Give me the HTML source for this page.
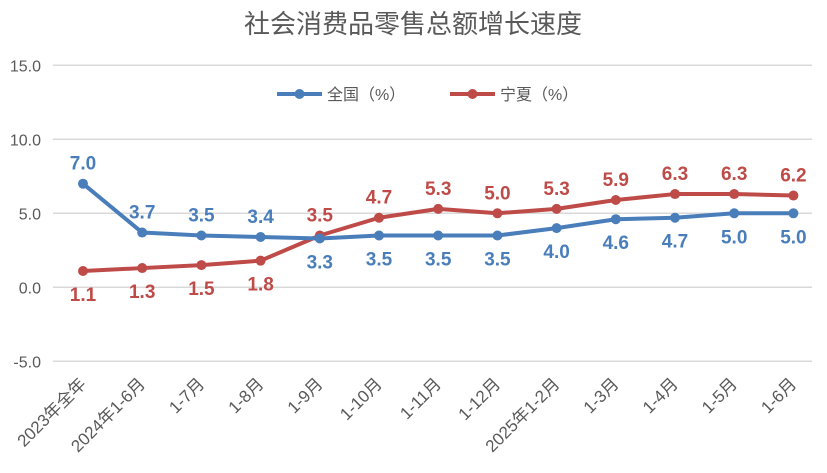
<!DOCTYPE html>
<html><head><meta charset="utf-8">
<style>
body{margin:0;background:#fff;}
svg{display:block;font-family:"Liberation Sans","Noto Sans CJK SC",sans-serif;}
</style></head>
<body>
<svg id="chart" width="827" height="473" viewBox="0 0 827 473">
<text x="413" y="33" text-anchor="middle" font-size="26" fill="#595959">社会消费品零售总额增长速度</text>
<g id="grid"></g><g id="yticks"></g><g id="xticks"></g><g id="series"></g>
<g>
<g>
<line x1="277" y1="94" x2="322" y2="94" stroke="#4a7ebb" stroke-width="4"/>
<circle cx="299.5" cy="94" r="5" fill="#4a7ebb"/>
<text x="327" y="100" font-size="16" fill="#595959">全国（%）</text></g>
<g>
<line x1="450" y1="94" x2="495" y2="94" stroke="#be4b48" stroke-width="4"/>
<circle cx="472.5" cy="94" r="5" fill="#be4b48"/>
<text x="500" y="100" font-size="16" fill="#595959">宁夏（%）</text></g>
</g>
</svg>
<script>
const categories=["2023年全年","2024年1-6月","1-7月","1-8月","1-9月","1-10月","1-11月","1-12月","2025年1-2月","1-3月","1-4月","1-5月","1-6月"];
const national=[7.0,3.7,3.5,3.4,3.3,3.5,3.5,3.5,4.0,4.6,4.7,5.0,5.0];
const ningxia=[1.1,1.3,1.5,1.8,3.5,4.7,5.3,5.0,5.3,5.9,6.3,6.3,6.2];
const yTicks=[15,10,5,0,-5];
const NS="http://www.w3.org/2000/svg";
const x=i=>83+i*59.2;
const y=v=>287.3-14.8*v;
function mk(tag,attrs,parent){const e=document.createElementNS(NS,tag);for(const k in attrs)e.setAttribute(k,attrs[k]);parent.appendChild(e);return e;}
const grid=document.getElementById('grid'),yt=document.getElementById('yticks'),xt=document.getElementById('xticks'),ser=document.getElementById('series');
yTicks.forEach(v=>{
 const l=mk('line',{x1:53,x2:812,y1:y(v),y2:y(v),stroke:'#d9d9d9','stroke-width':1.5},grid);
 
 
 const t=mk('text',{x:41,y:y(v)+6,'text-anchor':'end','font-size':16,fill:'#595959'},yt);
 t.textContent=v.toFixed(1);
 
 
});
categories.forEach((c,i)=>{
 const ax=x(i)+4, ay=385;
 const t=mk('text',{x:ax,y:ay,'text-anchor':'end','font-size':17,fill:'#595959',transform:`rotate(-45 ${ax} ${ay})`},xt);
 t.textContent=c;
 
 
});
function draw(data,color,name,above){
 const p=mk('polyline',{points:data.map((v,i)=>x(i)+','+y(v)).join(' '),fill:'none',stroke:color,'stroke-width':4,'stroke-linejoin':'round'},ser);
 
 
 data.forEach((v,i)=>{
  const c=mk('circle',{cx:x(i),cy:y(v),r:5,fill:color},ser);
  
  
  const up=above(i);
  const t=mk('text',{x:x(i),y:up?y(v)-14:y(v)+30,'text-anchor':'middle','font-size':19,'font-weight':'bold',fill:color},ser);
  t.textContent=v.toFixed(1);
  
  
 });
}
draw(ningxia,'#be4b48','ningxia',i=>i>=4);
draw(national,'#4a7ebb','national',i=>i<4);
</script>
</body></html>
